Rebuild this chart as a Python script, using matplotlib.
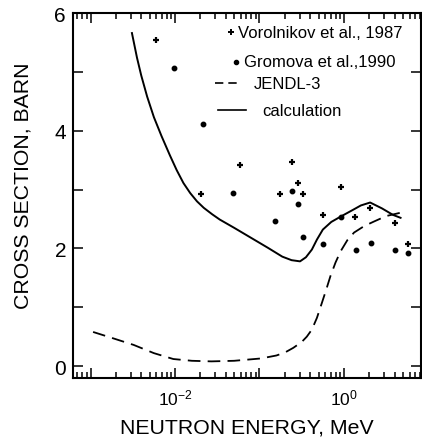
import numpy as np
import matplotlib
matplotlib.use("Agg")
import matplotlib.pyplot as plt
from matplotlib.ticker import LogLocator, FixedLocator, FuncFormatter, NullFormatter

plt.rcParams['font.family'] = ['Liberation Sans', 'DejaVu Sans']
plt.rcParams['mathtext.fontset'] = 'custom'
plt.rcParams['mathtext.rm'] = 'Liberation Sans'
plt.rcParams['mathtext.it'] = 'Liberation Sans'

# Calculated cross section (log10 of energy in MeV, barn)
calc_logE = [-2.51, -2.45, -2.40, -2.33, -2.25, -2.16, -2.06, -1.98, -1.90,
             -1.82, -1.74, -1.66, -1.56, -1.47, -1.30, -1.10, -0.90, -0.73,
             -0.62, -0.52, -0.45, -0.38, -0.32, -0.25, -0.15, -0.04, 0.10,
             0.20, 0.31, 0.45, 0.58, 0.67]
calc_sigma = [5.66, 5.24, 4.94, 4.58, 4.23, 3.91, 3.58, 3.33, 3.11,
              2.94, 2.80, 2.69, 2.58, 2.49, 2.35, 2.18, 2.01, 1.86,
              1.80, 1.78, 1.85, 1.98, 2.15, 2.32, 2.45, 2.54, 2.65,
              2.73, 2.78, 2.68, 2.57, 2.52]

# JENDL-3 evaluation
jendl_logE = [-2.97, -2.75, -2.49, -2.25, -2.02, -1.80, -1.57, -1.30, -0.98,
              -0.80, -0.70, -0.60, -0.50, -0.44, -0.38, -0.32, -0.26, -0.21,
              -0.16, -0.10, -0.04, 0.04, 0.12, 0.24, 0.36, 0.50, 0.68]
jendl_sigma = [0.58, 0.48, 0.36, 0.22, 0.12, 0.09, 0.08, 0.09, 0.13,
               0.18, 0.23, 0.31, 0.41, 0.50, 0.62, 0.82, 1.08, 1.30,
               1.53, 1.76, 1.95, 2.14, 2.27, 2.38, 2.46, 2.55, 2.61]

# Vorolnikov et al., 1987
vor_logE = [-2.23, -1.69, -1.23, -0.76, -0.62, -0.54, -0.49, -0.25, -0.04,
            0.13, 0.31, 0.60, 0.76]
vor_sigma = [5.54, 2.93, 3.42, 2.92, 3.47, 3.12, 2.93, 2.56, 3.05,
             2.53, 2.69, 2.44, 2.08]

# Gromova et al., 1990
gro_logE = [-2.01, -1.67, -1.31, -0.82, -0.62, -0.54, -0.48, -0.25, -0.04,
            0.14, 0.32, 0.61, 0.76]
gro_sigma = [5.07, 4.12, 2.95, 2.46, 2.97, 2.76, 2.20, 2.08, 2.54,
             1.98, 2.10, 1.98, 1.93]

x_labels = {-2: r'$10^{-2}$', 0: r'$10^{0}$'}
y_labels = [0, 2, 4, 6]

fig = plt.figure(figsize=(4.22, 4.39), dpi=100)
ax = fig.add_axes([0.173, 0.137, 0.825, 0.831])

ax.plot(10 ** np.array(calc_logE), calc_sigma, color='black', lw=1.4)
ax.plot(10 ** np.array(jendl_logE), jendl_sigma, color='black', lw=1.3,
        dashes=(7, 4))
ax.plot(10 ** np.array(vor_logE), vor_sigma, linestyle='none', marker='+',
        ms=5, mew=1.6, color='black')
ax.plot(10 ** np.array(gro_logE), gro_sigma, linestyle='none', marker='o',
        ms=3.2, color='black')

ax.set_xscale('log')
ax.set_xlim(6.2e-4, 8.2)
ax.set_ylim(-0.2, 6)

ax.xaxis.set_major_locator(LogLocator(base=10, numticks=10))
ax.xaxis.set_minor_locator(LogLocator(base=10, subs=np.arange(2, 10), numticks=20))
ax.xaxis.set_major_formatter(FuncFormatter(
    lambda v, p: x_labels.get(int(round(np.log10(v))), '')))
ax.xaxis.set_minor_formatter(NullFormatter())
ax.yaxis.set_major_locator(FixedLocator(y_labels))
ax.yaxis.set_minor_locator(FixedLocator([1, 3, 5]))

ax.tick_params(which='both', direction='in', top=True, right=True, width=1.1)
ax.tick_params(which='major', length=7)
ax.tick_params(which='minor', length=4)
ax.tick_params(axis='x', labelsize=12.5, pad=7)
ax.tick_params(axis='y', labelsize=15, pad=5)
ax.tick_params(axis='y', which='minor', length=7)

for s in ax.spines.values():
    s.set_linewidth(1.5)

ax.set_xlabel('NEUTRON ENERGY, MeV', fontsize=15.3, labelpad=7)
ax.set_ylabel('CROSS SECTION, BARN', fontsize=15.3, labelpad=12)
ax.yaxis.set_label_coords(-0.115, 0.53)

# Legend drawn as individual entries
tr = ax.transAxes
ax.plot([0.455], [0.948], transform=tr, marker='+', ms=5, mew=1.4, color='black')
ax.text(0.474, 0.948, 'Vorolnikov et al., 1987', transform=tr, fontsize=12,
        va='center', ha='left')
ax.plot([0.469], [0.866], transform=tr, marker='o', ms=3, color='black')
ax.text(0.49, 0.866, 'Gromova et al.,1990', transform=tr, fontsize=12,
        va='center', ha='left')
ax.plot([0.408, 0.482], [0.808, 0.808], transform=tr, color='black', lw=1.2,
        dashes=(5, 3))
ax.text(0.52, 0.808, 'JENDL-3', transform=tr, fontsize=12, va='center', ha='left')
ax.plot([0.417, 0.497], [0.733, 0.733], transform=tr, color='black', lw=1.2)
ax.text(0.543, 0.733, 'calculation', transform=tr, fontsize=12, va='center',
        ha='left')

fig.savefig('out.png', dpi=100)
